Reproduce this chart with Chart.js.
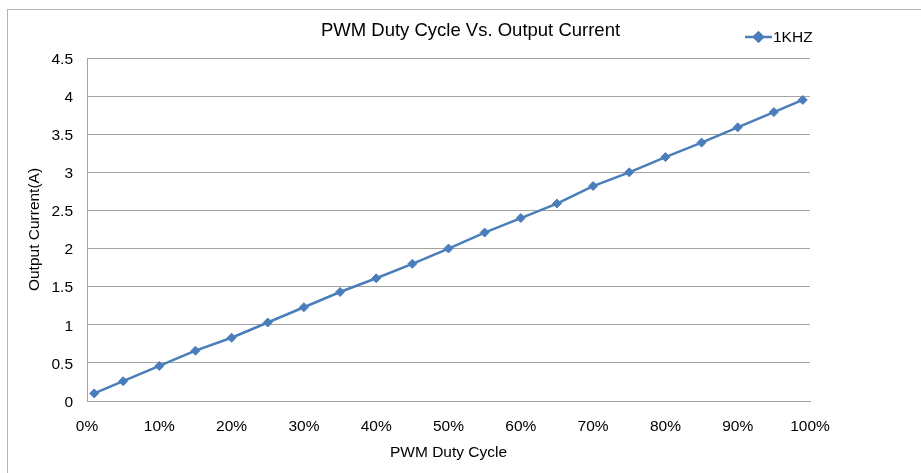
<!DOCTYPE html>
<html>
<head>
<meta charset="utf-8">
<script src="https://cdn.jsdelivr.net/npm/chart.js@4/dist/chart.umd.min.js"></script>
<style>
  html, body { margin: 0; padding: 0; background: #fff; }
  #wrap { position: relative; width: 921px; height: 473px; overflow: hidden; }
  #frame { position: absolute; left: 7px; top: 9px; width: 930px; height: 480px;
           border-left: 1px solid #b4b4b4; border-top: 1px solid #b4b4b4; pointer-events: none; }
  canvas { position: absolute; left: 0; top: 0; }
</style>
</head>
<body>
<div id="wrap">
  <canvas id="pwmChart" width="921" height="473"></canvas>
  <div id="frame"></div>
</div>
<script>
// data
const chartTitle = 'PWM Duty Cycle Vs. Output Current';
const seriesLabel = '1KHZ';
const dutyCycle = [1, 5, 10, 15, 20, 25, 30, 35, 40, 45, 50, 55, 60, 65, 70, 75, 80, 85, 90, 95, 99];
const current1k = [0.10, 0.26, 0.46, 0.66, 0.83, 1.03, 1.23, 1.43, 1.61, 1.80, 2.00, 2.21, 2.40, 2.59, 2.82, 3.00, 3.20, 3.39, 3.59, 3.79, 3.95];

const lineBlue = '#4a7ebb';
const gridGray = '#a3a3a3';
const fontFamily = '"Liberation Sans", Arial, sans-serif';

// title + legend sit on the same row, so draw them here
const headerPlugin = {
    id: 'header',
    afterDraw(chart) {
        const ctx = chart.ctx;
        const ds = chart.data.datasets[0];
        ctx.save();
        ctx.fillStyle = '#000';
        ctx.textBaseline = 'middle';

        ctx.font = '18.5px ' + fontFamily;
        ctx.textAlign = 'center';
        ctx.fillText(chartTitle, 470.5, 30.5);

        // legend entry
        ctx.strokeStyle = ds.borderColor;
        ctx.lineWidth = 2.5;
        ctx.beginPath();
        ctx.moveTo(745, 37);
        ctx.lineTo(772, 37);
        ctx.stroke();
        Chart.helpers.drawPoint(ctx, { pointStyle: 'rectRot', radius: 4.5, borderWidth: 1 }, 758.5, 37);
        ctx.fillStyle = ds.borderColor;
        ctx.fill();

        ctx.fillStyle = '#000';
        ctx.font = '15.5px ' + fontFamily;
        ctx.textAlign = 'left';
        ctx.fillText(ds.label, 773, 38);
        ctx.restore();
    }
};

const ctx = document.getElementById('pwmChart').getContext('2d');
new Chart(ctx, {
    type: 'line',
    data: {
        datasets: [{
            label: seriesLabel,
            data: dutyCycle.map((d, i) => ({ x: d, y: current1k[i] })),
            borderColor: lineBlue,
            backgroundColor: lineBlue,
            borderWidth: 2.5,
            pointStyle: 'rectRot',
            pointRadius: 4.5,
            pointBorderWidth: 1,
            pointBackgroundColor: lineBlue,
            pointBorderColor: lineBlue,
            tension: 0
        }]
    },
    options: {
        responsive: false,
        animation: false,
        layout: { padding: { top: 58, right: 111, bottom: 0, left: 0 } },
        plugins: {
            legend: { display: false },
            title: { display: false },
            tooltip: { enabled: false }
        },
        scales: {
            x: {
                type: 'linear',
                min: 0,
                max: 100,
                afterFit: (scale) => { scale.height = 72; },
                ticks: {
                    stepSize: 10,
                    padding: 16,
                    color: '#000',
                    font: { family: fontFamily, size: 15.5 },
                    callback: (v) => v + '%'
                },
                grid: { display: false, drawTicks: false },
                border: { display: true, color: gridGray, width: 1 },
                title: {
                    display: true,
                    text: 'PWM Duty Cycle',
                    color: '#000',
                    font: { family: fontFamily, size: 15.5 },
                    padding: { top: 0, bottom: 11 }
                }
            },
            y: {
                min: 0,
                max: 4.5,
                afterFit: (scale) => { scale.width = 87; },
                ticks: {
                    stepSize: 0.5,
                    padding: 14,
                    labelOffset: 1.5,
                    color: '#000',
                    font: { family: fontFamily, size: 15.5 },
                    callback: (v) => String(v)
                },
                grid: { color: gridGray, lineWidth: 1, drawTicks: false },
                border: { display: true, color: gridGray, width: 1 },
                title: {
                    display: true,
                    text: 'Output Current(A)',
                    color: '#000',
                    font: { family: fontFamily, size: 15.5 },
                    padding: { top: 25, bottom: 0 }
                }
            }
        }
    },
    plugins: [headerPlugin]
});
</script>
</body>
</html>
